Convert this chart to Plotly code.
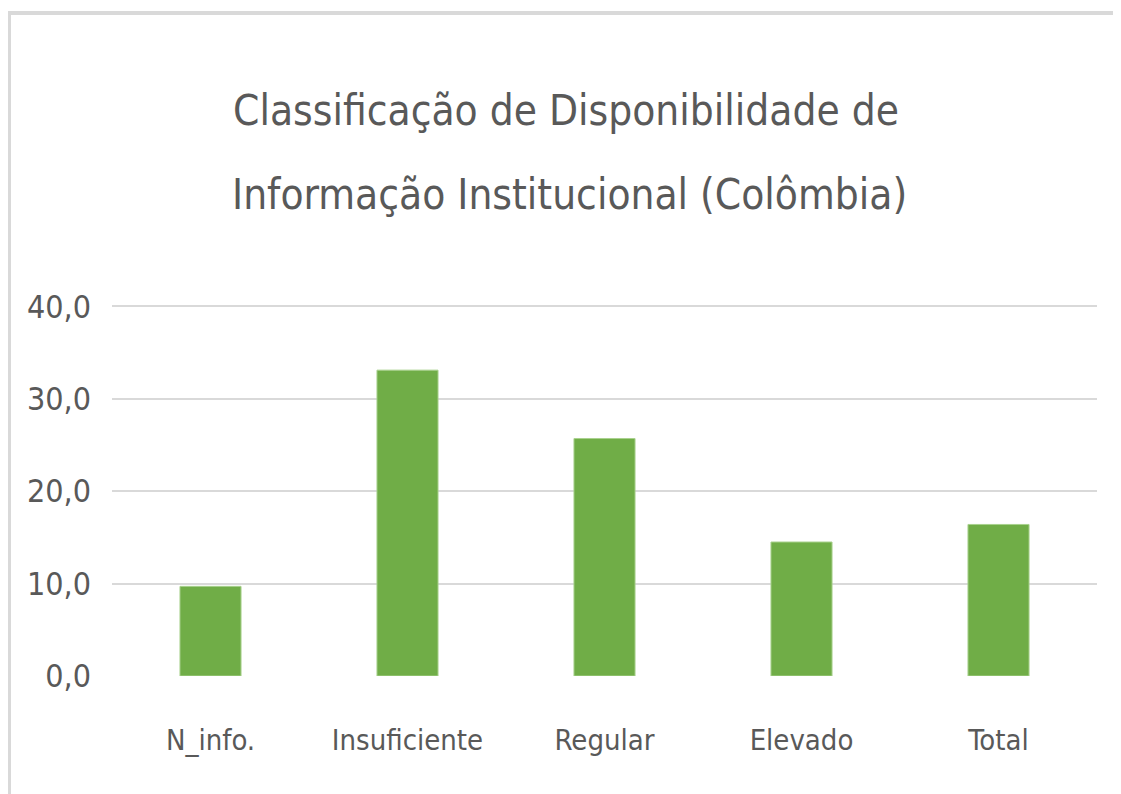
import plotly.graph_objects as go

categories = ["N_info.", "Insuficiente", "Regular", "Elevado", "Total"]
values = [9.7, 33.1, 25.7, 14.5, 16.4]
tick_vals = [0, 10, 20, 30, 40]
tick_text = ["0,0", "10,0", "20,0", "30,0", "40,0"]
title_lines = ["Classificação de Disponibilidade de",
               "Informação Institucional (Colômbia)"]

W, H = 1121, 794
OFF = 8  # page body margin
YMAX = 40.15
L, R = 112 - OFF, 24 + OFF
B = 118 + OFF
T = int(round(306 - OFF - (YMAX - 40) * 9.25))
pw, ph = W - L - R, H - T - B

def px_x(x):
    return (x - OFF - L) / pw

def px_y(y):
    return (H - B - (y - OFF)) / ph

FONT = "DejaVu Sans Condensed"
GRAY = "#595959"

fig = go.Figure(go.Bar(
    x=categories, y=values,
    marker=dict(color="#70AD47", line=dict(color="#A9D18E", width=1)),
    width=0.31,
))

annotations = [
    dict(text=title_lines[0], xref="paper", yref="paper",
         x=px_x(566), y=px_y(110), xanchor="center", yanchor="middle",
         showarrow=False, font=dict(family=FONT, size=42, color=GRAY)),
    dict(text=title_lines[1], xref="paper", yref="paper",
         x=px_x(569), y=px_y(195), xanchor="center", yanchor="middle",
         showarrow=False, font=dict(family=FONT, size=42, color=GRAY)),
]

fig.update_layout(
    width=W, height=H,
    margin=dict(l=L, r=R, t=T, b=B),
    paper_bgcolor="white", plot_bgcolor="white",
    showlegend=False,
    font=dict(family=FONT, color=GRAY),
    annotations=annotations,
    xaxis=dict(
        showgrid=False, zeroline=False, showline=False,
        tickfont=dict(family=FONT, size=29, color=GRAY),
        ticks="", ticklabelstandoff=44,
    ),
    yaxis=dict(
        range=[0, YMAX], tickvals=tick_vals, ticktext=tick_text,
        showgrid=True, gridcolor="#D9D9D9", gridwidth=2,
        zeroline=False, showline=False, ticks="",
        tickfont=dict(family=FONT, size=32, color=GRAY),
        ticklabelstandoff=20,
    ),
    shapes=[
        dict(type="line", xref="paper", yref="paper",
             x0=px_x(8), x1=px_x(W + 20), y0=px_y(13), y1=px_y(13),
             line=dict(color="#D9D9D9", width=4)),
        dict(type="line", xref="paper", yref="paper",
             x0=px_x(9.5), x1=px_x(9.5), y0=px_y(11), y1=px_y(H + 20),
             line=dict(color="#D9D9D9", width=3)),
    ],
)

fig.write_html("out.html")
